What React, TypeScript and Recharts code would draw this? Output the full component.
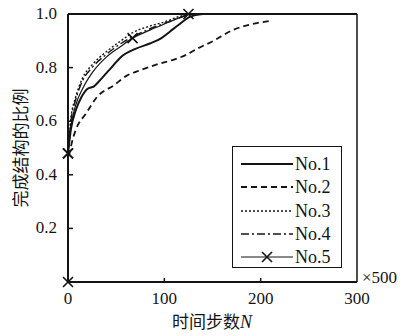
import { LineChart, Line, XAxis, YAxis, ReferenceLine } from 'recharts';

// 时间步数 N (x500) vs 完成结构的比例
const no1N = [0, 3, 8, 14, 20, 27, 35, 45, 55, 70, 85, 97, 106, 115, 127, 140];
const no1V = [0.48, 0.57, 0.64, 0.69, 0.72, 0.73, 0.76, 0.8, 0.84, 0.87, 0.89, 0.91, 0.935, 0.96, 0.99, 1.0];

const no2N = [1, 4, 8, 19, 30, 48, 61, 75, 95, 110, 123, 134, 151, 171, 196, 212];
const no2V = [0.47, 0.52, 0.567, 0.63, 0.69, 0.735, 0.77, 0.79, 0.815, 0.83, 0.848, 0.87, 0.9, 0.94, 0.966, 0.975];

const no3N = [0, 3, 8, 15, 25, 40, 55, 67, 85, 100, 115, 130];
const no3V = [0.48, 0.61, 0.69, 0.76, 0.81, 0.86, 0.9, 0.93, 0.955, 0.97, 0.99, 1.0];

const no4N = [0, 3, 8, 15, 25, 40, 55, 67, 85, 100, 115, 128];
const no4V = [0.48, 0.6, 0.68, 0.75, 0.8, 0.85, 0.89, 0.915, 0.945, 0.965, 0.985, 1.0];

const no5N = [0, 0, 3, 8, 15, 25, 40, 55, 67, 85, 105, 125];
const no5V = [0, 0.48, 0.58, 0.66, 0.72, 0.78, 0.84, 0.88, 0.91, 0.94, 0.97, 1.0];
const no5Marks = [0, 1, 8, 11];

const xTicks = [0, 100, 200, 300];
const yTicks = [0, 0.2, 0.4, 0.6, 0.8, 1.0];
const legendNames = ['No.1', 'No.2', 'No.3', 'No.4', 'No.5'];

const toRows = (ns: number[], vs: number[]) => ns.map((n, i) => ({ n, v: vs[i], i }));

const ink = '#141414';
const serif = '"Liberation Serif", "Times New Roman", serif';
const cjk = '"Noto Sans CJK SC", sans-serif';

const styles = [
    { width: 2, dash: undefined },
    { width: 1.8, dash: '6 4' },
    { width: 1.4, dash: '2 2' },
    { width: 1.4, dash: '8 3 2 3' },
    { width: 1.2, dash: undefined },
];

const Cross = ({ cx, cy }: { cx: number; cy: number }) => (
    <path d={`M${cx - 5},${cy - 5}L${cx + 5},${cy + 5}M${cx - 5},${cy + 5}L${cx + 5},${cy - 5}`} stroke={ink} strokeWidth={1.6} />
);

// eslint-disable-next-line @typescript-eslint/no-explicit-any
const no5Dot = (props: any) => {
    const { cx, cy, index } = props;
    const realIndex = index + 1;
    if (!no5Marks.includes(realIndex)) return <g key={`d-${index}`} />;
    return <Cross key={`d-${index}`} cx={cx} cy={cy} />;
};

// eslint-disable-next-line @typescript-eslint/no-explicit-any
const originDot = (props: any) => {
    const { cx, cy, index } = props;
    if (!no5Marks.includes(index)) return <g key={`o-${index}`} />;
    return <Cross key={`o-${index}`} cx={cx} cy={cy} />;
};

// eslint-disable-next-line @typescript-eslint/no-explicit-any
const XTick = (props: any) => {
    const { x, y, payload } = props;
    const inner = payload.value > 0 && payload.value < 300;
    return (
        <g>
            {inner && <line x1={x} x2={x} y1={y} y2={y - 4} stroke={ink} strokeWidth={1.5} />}
            <text x={x} y={y + 22} textAnchor="middle" fontSize={17} fontFamily={serif} fill={ink}>
                {payload.value}
            </text>
        </g>
    );
};

// eslint-disable-next-line @typescript-eslint/no-explicit-any
const YTick = (props: any) => {
    const { x, y, payload } = props;
    const inner = payload.value > 0 && payload.value < 1;
    return (
        <g>
            {inner && <line x1={x} x2={x + 5} y1={y} y2={y} stroke={ink} strokeWidth={1.5} />}
            {payload.value > 0 && (
                <text x={x - 11} y={y + 5} textAnchor="end" fontSize={17} fontFamily={serif} fill={ink}>
                    {payload.value.toFixed(1)}
                </text>
            )}
        </g>
    );
};

const XTitle = () => (
    <g>
        <text x={212} y={328} textAnchor="middle" fontSize={17} fontFamily={cjk} fill={ink}>
            时间步数<tspan fontFamily={serif} fontStyle="italic" fontSize={18}>N</tspan>
        </text>
        <text x={362} y={283} fontSize={17} fontFamily={serif} fill={ink}>×500</text>
    </g>
);

const YTitle = () => (
    <text x={22} y={148} transform="rotate(-90 22 148)" textAnchor="middle" dominantBaseline="middle" fontSize={17} fontFamily={cjk} fill={ink}>
        完成结构的比例
    </text>
);

const LegendBox = () => (
    <div style={{ position: 'absolute', left: 232, top: 146, width: 108, height: 120, border: `1.5px solid ${ink}`, background: '#fff' }}>
        {legendNames.map((name, k) => (
            <div key={name} style={{ position: 'absolute', left: 0, top: 6 + k * 23.3, height: 22, display: 'flex', alignItems: 'center' }}>
                <svg width={62} height={22}>
                    <line x1={8} x2={60} y1={11} y2={11} stroke={ink} strokeWidth={styles[k].width} strokeDasharray={styles[k].dash} />
                    {k === 4 && <Cross cx={34} cy={11} />}
                </svg>
                <span style={{ fontFamily: serif, fontSize: 18, color: ink, lineHeight: '22px' }}>{name}</span>
            </div>
        ))}
    </div>
);

export default function App() {
    const series = [toRows(no1N, no1V), toRows(no2N, no2V), toRows(no3N, no3V), toRows(no4N, no4V)];
    const no5Rows = toRows(no5N, no5V);
    return (
        <div style={{ position: 'absolute', left: 0, top: 0, width: 406, height: 336, background: '#fff' }}>
            <LineChart width={406} height={336} margin={{ top: 14, right: 49, bottom: 0, left: 0 }}>
                <XAxis
                    type="number"
                    dataKey="n"
                    domain={[0, 300]}
                    ticks={xTicks}
                    height={54}
                    tickSize={0}
                    tickMargin={0}
                    tickLine={false}
                    tick={<XTick />}
                    axisLine={{ stroke: ink, strokeWidth: 2 }}
                    label={<XTitle />}
                />
                <YAxis
                    type="number"
                    dataKey="v"
                    domain={[0, 1]}
                    ticks={yTicks}
                    width={68}
                    tickSize={0}
                    tickMargin={0}
                    tickLine={false}
                    tick={<YTick />}
                    axisLine={{ stroke: ink, strokeWidth: 2 }}
                    label={<YTitle />}
                />
                <ReferenceLine y={1} stroke={ink} strokeWidth={2} />
                <ReferenceLine x={300} stroke={ink} strokeWidth={1.5} />
                {series.map((rows, k) => (
                    <Line
                        key={legendNames[k]}
                        data={rows}
                        dataKey="v"
                        type="monotone"
                        stroke={ink}
                        strokeWidth={styles[k].width}
                        strokeDasharray={styles[k].dash}
                        dot={false}
                        isAnimationActive={false}
                    />
                ))}
                <Line
                    data={no5Rows.slice(0, 2)}
                    dataKey="v"
                    type="linear"
                    stroke={ink}
                    strokeWidth={styles[4].width}
                    dot={originDot}
                    isAnimationActive={false}
                />
                <Line
                    data={no5Rows.slice(1)}
                    dataKey="v"
                    type="monotone"
                    stroke={ink}
                    strokeWidth={styles[4].width}
                    dot={no5Dot}
                    isAnimationActive={false}
                />
            </LineChart>
            <LegendBox />
        </div>
    );
}
